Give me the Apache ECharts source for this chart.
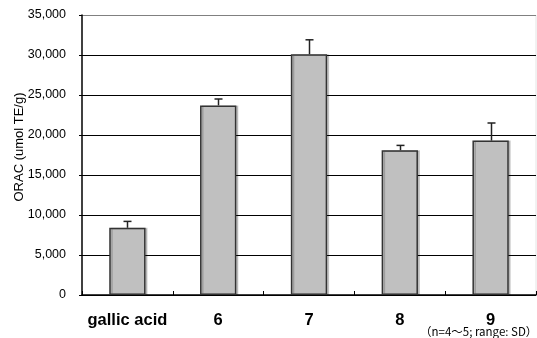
<!DOCTYPE html>
<html>
<head>
<meta charset="utf-8">
<script src="https://cdn.jsdelivr.net/npm/echarts@6/dist/echarts.min.js"></script>
<style>
html,body{margin:0;padding:0;background:#fff;}
#chart{width:537px;height:338px;}
</style>
</head>
<body>
<div id="chart"></div>
<script>
var categories = ['gallic acid', '6', '7', '8', '9'];
var values = [8400, 23700, 30100, 18100, 19300];
var errors = [800, 800, 1800, 600, 2200];
var yTicks = [0, 5000, 10000, 15000, 20000, 25000, 30000, 35000];
var yTitle = 'ORAC (umol TE/g)';
var note = '（n=4～5; range: SD）';

var chart = echarts.init(document.getElementById('chart'), null, {renderer: 'canvas'});
var errData = values.map(function (v, i) { return [i, v, v + errors[i]]; });

chart.setOption({
  animation: false,
  backgroundColor: '#ffffff',
  grid: {left: 82, top: 15, right: 1, bottom: 43, containLabel: false, outerBoundsMode: 'none'},
  xAxis: {
    type: 'category',
    data: categories,
    boundaryGap: true,
    axisLine: {lineStyle: {color: '#000', width: 1.5}},
    axisTick: {show: true, inside: true, length: 4, lineStyle: {color: '#000'}},
    axisLabel: {
      interval: 0,
      color: '#000', fontFamily: 'Liberation Sans, Arial, sans-serif',
      fontWeight: 'bold', fontSize: 16.5, margin: 17
    },
    splitLine: {show: false}
  },
  yAxis: {
    type: 'value',
    min: yTicks[0],
    max: yTicks[yTicks.length - 1],
    interval: 5000,
    axisLine: {show: true, lineStyle: {color: '#000', width: 1.5}},
    axisTick: {show: true, length: 3, lineStyle: {color: '#000'}},
    axisLabel: {
      color: '#000', fontSize: 12.5, margin: 16,
      fontFamily: 'Liberation Sans, Arial, sans-serif',
      formatter: function (v) { return v === 0 ? '0' : v.toLocaleString('en-US'); }
    },
    splitLine: {
      show: true,
      lineStyle: {color: ['#000', '#000', '#000', '#000', '#000', '#000', '#000', '#808080'], width: 1}
    }
  },
  series: [
    {
      type: 'bar',
      data: values,
      barWidth: '40%',
      itemStyle: {
        color: '#c0c0c0',
        borderColor: '#333',
        borderWidth: 1.5,
        shadowColor: 'rgba(0,0,0,0.18)',
        shadowOffsetX: 2,
        shadowOffsetY: 0,
        shadowBlur: 0
      },
      z: 3
    },
    {
      type: 'custom',
      data: errData,
      z: 4,
      renderItem: function (params, api) {
        var base = api.coord([api.value(0), api.value(1)]);
        var top = api.coord([api.value(0), api.value(2)]);
        var x = Math.round(base[0]) + 0.5;
        var hw = 4;
        return {
          type: 'group',
          children: [
            {type: 'line', shape: {x1: x, y1: base[1], x2: x, y2: top[1]}, style: {stroke: '#222', lineWidth: 1.5}},
            {type: 'line', shape: {x1: x - hw, y1: top[1], x2: x + hw, y2: top[1]}, style: {stroke: '#222', lineWidth: 1.5}}
          ]
        };
      }
    }
  ],
  graphic: [
    {
      type: 'text',
      x: 19,
      y: 147,
      rotation: Math.PI / 2,
      style: {text: yTitle, fill: '#000', fontSize: 13, fontFamily: 'Liberation Sans, Arial, sans-serif', align: 'center', verticalAlign: 'middle'}
    },
    {
      type: 'text',
      x: 420,
      y: 326,
      style: {text: note, fill: '#000', fontSize: 11.5, fontFamily: 'Noto Sans CJK JP, sans-serif'}
    },
    {
      type: 'line',
      shape: {x1: 536, y1: 15, x2: 536, y2: 295},
      style: {stroke: '#e4e4e4', lineWidth: 1}
    }
  ]
});
</script>
</body>
</html>
